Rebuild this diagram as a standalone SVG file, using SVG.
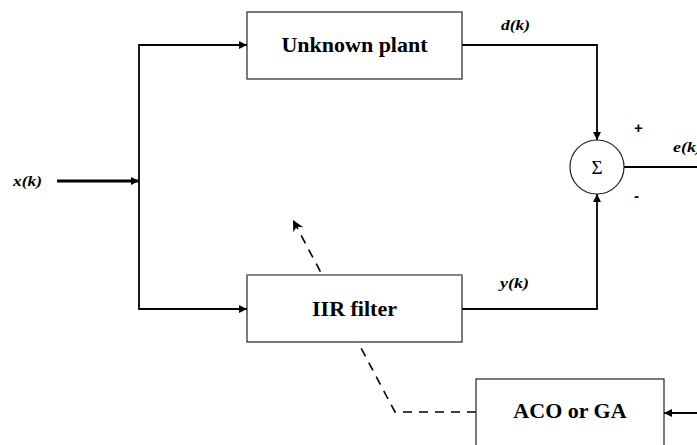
<svg xmlns="http://www.w3.org/2000/svg" width="697" height="445" viewBox="0 0 697 445">
<defs>
<marker id="ah" viewBox="0 0 10 10" refX="10" refY="5" markerWidth="10" markerHeight="8" markerUnits="userSpaceOnUse" orient="auto">
<path d="M0,0 L10,5 L0,10 z" fill="#000"/>
</marker>
<marker id="ahd" viewBox="0 0 10 10" refX="10" refY="5" markerWidth="13" markerHeight="11" markerUnits="userSpaceOnUse" orient="auto">
<path d="M0,0 L10,5 L0,10 L3,5 z" fill="#000"/>
</marker>
</defs>
<style>
.ln{fill:none;stroke:#000;stroke-width:1.8}
.box{fill:#fff;stroke:#222;stroke-width:1.2}
.t{font-family:'Liberation Serif','Times New Roman',serif;font-weight:bold;font-size:22px;text-anchor:middle;fill:#000}
.lab{font-family:'Liberation Serif','Times New Roman',serif;font-weight:bold;font-style:italic;font-size:15px;fill:#000}
.sg{font-family:'Liberation Sans','DejaVu Sans',sans-serif;font-weight:bold;font-size:15px;fill:#000}
</style>
<g id="connectors">
<line class="ln" x1="57" y1="181" x2="139" y2="181" style="stroke-width:3.2" marker-end="url(#ah)"/>
<line class="ln" x1="139" y1="44" x2="139" y2="310"/>
<polyline class="ln" points="139,45 247,45" marker-end="url(#ah)"/>
<polyline class="ln" points="139,309 247,309" marker-end="url(#ah)"/>
<polyline class="ln" points="462,45 597,45 597,140" marker-end="url(#ah)"/>
<polyline class="ln" points="462,309 597,309 597,194" marker-end="url(#ah)"/>
<line class="ln" x1="624" y1="167" x2="697" y2="167"/>
<line class="ln" x1="697" y1="413" x2="664" y2="413" marker-end="url(#ah)"/>
<polyline class="ln" points="476,412 395,412 293,220" style="stroke-dasharray:9,7;stroke-width:1.6" marker-end="url(#ahd)"/>
</g>
<g id="plant">
<rect class="box" x="247" y="12" width="215" height="67"/>
<text class="t" x="354.5" y="52">Unknown plant</text>
</g>
<g id="iir">
<rect class="box" x="247" y="275" width="215" height="67"/>
<line x1="247" y1="275" x2="462" y2="275" stroke="#888" stroke-width="1.4"/>
<text class="t" x="354.5" y="316">IIR filter</text>
</g>
<g id="aco">
<rect class="box" x="476" y="379" width="188" height="75"/>
<text class="t" x="570" y="418">ACO or GA</text>
</g>
<g id="sum">
<circle cx="597" cy="167" r="27" fill="#fff" stroke="#222" stroke-width="1.2"/>
<text x="597" y="174" text-anchor="middle" font-family="'Liberation Serif','DejaVu Serif',serif" font-size="19">Σ</text>
</g>
<g id="labels">
<text class="lab" x="13" y="186" textLength="29" lengthAdjust="spacingAndGlyphs">x(k)</text>
<text class="lab" x="501" y="30" textLength="29" lengthAdjust="spacingAndGlyphs">d(k)</text>
<text class="lab" x="500" y="288" textLength="29" lengthAdjust="spacingAndGlyphs">y(k)</text>
<text class="lab" x="673" y="152" textLength="29" lengthAdjust="spacingAndGlyphs">e(k)</text>
<text class="sg" x="634" y="133">+</text>
<text class="sg" x="634" y="201">-</text>
</g>
</svg>
